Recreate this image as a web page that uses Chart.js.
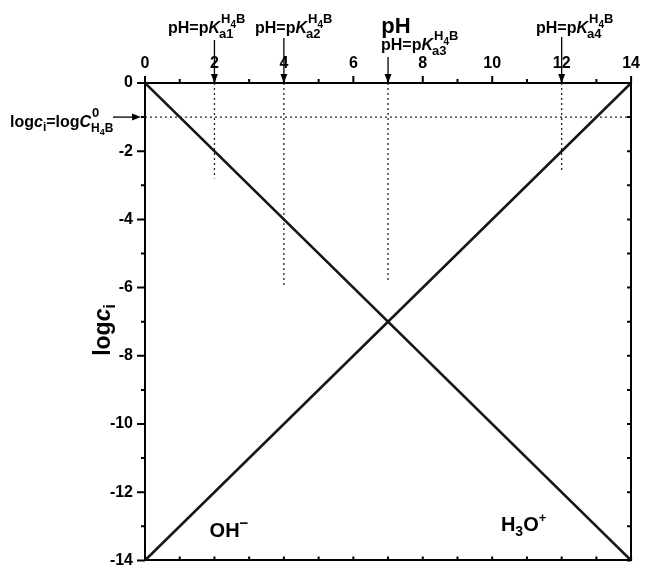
<!DOCTYPE html>
<html>
<head>
<meta charset="utf-8">
<script src="https://cdn.jsdelivr.net/npm/chart.js@4.4.0/dist/chart.umd.min.js"></script>
<style>
html,body{margin:0;padding:0;background:#fff;}
#wrap{width:650px;height:582px;}
</style>
</head>
<body>
<div id="wrap"><canvas id="myChart" width="650" height="582"></canvas></div>
<script>
// pH range and the two water lines (log c vs pH)
var phRange = [0, 14];
var ohValues = [0, -14];
var h3oValues = [-14, 0];
// pKa positions of H4B and where their dotted guides stop
var pKaValues = [2, 4, 7, 12];
var pKaNames = ["a1", "a2", "a3", "a4"];
var guideEnds = [-2.8, -5.95, -5.8, -2.6];
// total concentration level
var logC0 = -1;
var minorSteps = [0,1,2,3,4,5,6,7,8,9,10,11,12,13,14];

var FONT = '"Liberation Sans", Arial, Helvetica, sans-serif';

var datasets = [
  {label: "OH-", data: phRange.map(function(p, i){ return {x: p, y: ohValues[i]}; }), borderColor: "#151515", borderWidth: 2.6},
  {label: "H3O+", data: phRange.map(function(p, i){ return {x: p, y: h3oValues[i]}; }), borderColor: "#151515", borderWidth: 2.6},
  {label: "logC0", data: phRange.map(function(p){ return {x: p, y: logC0}; }), borderColor: "#222", borderWidth: 1.3, borderDash: [2, 3]}
];
pKaValues.forEach(function(p, i){
  datasets.push({label: "pK" + pKaNames[i], data: [{x: p, y: 0}, {x: p, y: guideEnds[i]}], borderColor: "#222", borderWidth: 1.3, borderDash: [2, 3]});
});
datasets.forEach(function(d){ d.showLine = true; d.pointRadius = 0; d.fill = false; });

// draws a run of text pieces: [text, size, italic, dy]
function drawRuns(ctx, x, y, runs) {
  runs.forEach(function(r){
    ctx.font = (r[2] ? "italic " : "") + "bold " + r[1] + "px " + FONT;
    ctx.fillText(r[0], x, y + (r[3] || 0));
    x += ctx.measureText(r[0]).width;
  });
  return x;
}
function runsWidth(ctx, runs) {
  var w = 0;
  runs.forEach(function(r){
    ctx.font = (r[2] ? "italic " : "") + "bold " + r[1] + "px " + FONT;
    w += ctx.measureText(r[0]).width;
  });
  return w;
}
function arrow(ctx, x1, y1, x2, y2) {
  var a = Math.atan2(y2 - y1, x2 - x1);
  ctx.beginPath();
  ctx.moveTo(x1, y1);
  ctx.lineTo(x2 - 7 * Math.cos(a), y2 - 7 * Math.sin(a));
  ctx.lineWidth = 1.3;
  ctx.stroke();
  ctx.beginPath();
  ctx.moveTo(x2, y2);
  ctx.lineTo(x2 - 9 * Math.cos(a) + 3.5 * Math.sin(a), y2 - 9 * Math.sin(a) - 3.5 * Math.cos(a));
  ctx.lineTo(x2 - 9 * Math.cos(a) - 3.5 * Math.sin(a), y2 - 9 * Math.sin(a) + 3.5 * Math.cos(a));
  ctx.closePath();
  ctx.fill();
}
function pKaLabel(ctx, x, y, name) {
  var k = drawRuns(ctx, x, y, [["pH=p", 16], ["K", 16, true]]);
  drawRuns(ctx, k + 1, y, [["H", 13, false, -10], ["4", 10, false, -5], ["B", 13, false, -10]]);
  drawRuns(ctx, k - 1, y, [[name, 13, false, 5]]);
}

var extras = {
  id: "extras",
  afterDraw: function(chart) {
    var ctx = chart.ctx, xs = chart.scales.x, ys = chart.scales.y;
    var a = chart.chartArea;
    ctx.save();
    ctx.strokeStyle = "#000";
    ctx.fillStyle = "#000";
    ctx.lineWidth = 2;
    // tick marks: outward on top and left, inward on bottom and right
    ctx.beginPath();
    minorSteps.forEach(function(v){
      var major = v % 2 === 0;
      var px = xs.getPixelForValue(v);
      ctx.moveTo(px, a.top); ctx.lineTo(px, a.top - (major ? 7 : 4));
      ctx.moveTo(px, a.bottom); ctx.lineTo(px, a.bottom - 4);
      var py = ys.getPixelForValue(-v);
      ctx.moveTo(a.left, py); ctx.lineTo(a.left - (major ? 8 : 4), py);
      ctx.moveTo(a.right, py); ctx.lineTo(a.right - 4, py);
    });
    ctx.stroke();

    // pKa arrows and labels
    var arrowTops = [40, 38, 57, 37];
    var labelX = [168, 255, 381, 536];
    var labelY = [33, 33, 50, 33];
    pKaValues.forEach(function(p, i){
      var px = xs.getPixelForValue(p);
      arrow(ctx, px, arrowTops[i], px, a.top);
      pKaLabel(ctx, labelX[i], labelY[i], pKaNames[i]);
    });

    // x axis title
    ctx.textAlign = "center";
    ctx.font = "bold 22px " + FONT;
    ctx.fillText("pH", 396, 33);
    ctx.textAlign = "left";

    // logC0 label and arrow
    var yc = ys.getPixelForValue(logC0);
    arrow(ctx, 113, yc, a.left - 4, yc);
    var c = drawRuns(ctx, 10, 127, [["log", 16], ["c", 16, true], ["i", 12, false, 4], ["=log", 16], ["C", 16, true]]);
    drawRuns(ctx, c + 1, 127, [["0", 13, false, -10]]);
    drawRuns(ctx, c, 127, [["H", 12, false, 5], ["4", 9, false, 8], ["B", 12, false, 5]]);

    // y axis title, rotated
    var yt = [["log", 23], ["c", 23, true], ["i", 16, false, 5]];
    ctx.save();
    ctx.translate(110, 330);
    ctx.rotate(-Math.PI / 2);
    drawRuns(ctx, -runsWidth(ctx, yt) / 2, 0, yt);
    ctx.restore();

    // species labels
    drawRuns(ctx, xs.getPixelForValue(1.86), ys.getPixelForValue(-13.3), [["OH", 20], ["\u2212", 15, false, -9]]);
    drawRuns(ctx, xs.getPixelForValue(10.25), ys.getPixelForValue(-13.15), [["H", 20], ["3", 14, false, 5], ["O", 20], ["+", 13, false, -9]]);
    ctx.restore();
  }
};

var tickFont = {family: FONT, size: 16, weight: "bold"};

new Chart("myChart", {
  type: "scatter",
  data: {datasets: datasets},
  options: {
    responsive: false,
    animation: false,
    events: [],
    layout: {padding: {left: 0, top: 0, right: 9, bottom: 5}},
    plugins: {legend: {display: false}, tooltip: {enabled: false}},
    scales: {
      x: {
        type: "linear", position: "top", min: 0, max: 14,
        ticks: {stepSize: 2, font: tickFont, color: "#000", padding: 10},
        grid: {display: false, drawTicks: false},
        border: {display: true, color: "#000", width: 2},
        afterFit: function(s){ s.height = 83; }
      },
      y: {
        type: "linear", position: "left", min: -14, max: 0,
        ticks: {stepSize: 2, font: tickFont, color: "#000", padding: 12},
        grid: {display: false, drawTicks: false},
        border: {display: true, color: "#000", width: 2},
        afterFit: function(s){ s.width = 145; }
      },
      xb: {
        type: "linear", position: "bottom", min: 0, max: 14,
        ticks: {display: false}, grid: {display: false, drawTicks: false},
        border: {display: true, color: "#000", width: 2},
        afterFit: function(s){ s.height = 0; }
      },
      yr: {
        type: "linear", position: "right", min: -14, max: 0,
        ticks: {display: false}, grid: {display: false, drawTicks: false},
        border: {display: true, color: "#000", width: 2},
        afterFit: function(s){ s.width = 0; }
      }
    }
  },
  plugins: [extras]
});
</script>
</body>
</html>
